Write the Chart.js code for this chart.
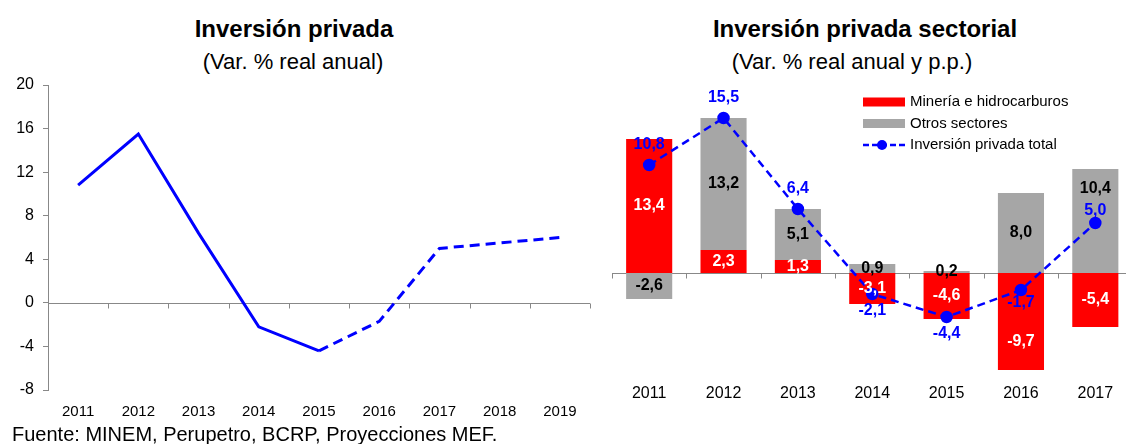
<!DOCTYPE html>
<html>
<head>
<meta charset="utf-8">
<script src="https://cdn.jsdelivr.net/npm/chart.js@4.4.0/dist/chart.umd.min.js"></script>
<style>
  html, body { margin:0; padding:0; background:#fff; width:1126px; height:444px; overflow:hidden; }
  body { position:relative; font-family:"Liberation Sans", Arial, sans-serif; color:#000; }
  .t1, .t2 { position:absolute; white-space:nowrap; transform:translateX(-50%); }
  .t1 { font-size:24px; font-weight:bold; line-height:28px; }
  .t2 { font-size:22px; line-height:24px; }
  #boxL { position:absolute; left:0; top:0; width:600px; height:425px; }
  #boxR { position:absolute; left:600px; top:0; width:540px; height:410px; }
  #src { position:absolute; left:12px; top:422px; font-size:20px; line-height:24px; white-space:nowrap; }
</style>
</head>
<body>
<div class="t1" style="left:294px; top:15px;">Inversión privada</div>
<div class="t2" style="left:293px; top:50px;">(Var. % real anual)</div>
<div class="t1" style="left:865px; top:15px;">Inversión privada sectorial</div>
<div class="t2" style="left:852px; top:50px;">(Var. % real anual y p.p.)</div>
<div id="boxL"><canvas id="leftChart"></canvas></div>
<div id="boxR"><canvas id="rightChart"></canvas></div>
<div id="src">Fuente: MINEM, Perupetro, BCRP, Proyecciones MEF.</div>
<script>
// left chart: inversión privada total (2011-2015 observed, 2016-2019 projected)
var yearsL = ['2011', '2012', '2013', '2014', '2015', '2016', '2017', '2018', '2019'];
var privada = [10.8, 15.5, 6.4, -2.2, -4.4, -1.7, 5.0, 5.5, 6.0];

// right chart: contribution by sector
var yearsR = ['2011', '2012', '2013', '2014', '2015', '2016', '2017'];
var mineria = [13.4, 2.3, 1.3, -3.1, -4.6, -9.7, -5.4];
var otros = [-2.6, 13.2, 5.1, 0.9, 0.2, 8.0, 10.4];
var privadaTotal = [10.8, 15.5, 6.4, -2.1, -4.4, -1.7, 5.0];

var FONT = '"Liberation Sans", Arial, sans-serif';
Chart.defaults.font.family = FONT;
Chart.defaults.color = '#000';

function fmt(v) {
     return v.toFixed(1).replace('.', ',');
}

// zero line with small tick marks at the category boundaries
var zeroAxis = {
     id: 'zeroAxis',
     beforeDatasetsDraw: function(chart) {
          var x = chart.scales.x, y = chart.scales.y, ctx = chart.ctx;
          var y0 = Math.round(y.getPixelForValue(0)) + 0.5;
          ctx.save();
          ctx.strokeStyle = '#888';
          ctx.lineWidth = 1;
          ctx.beginPath();
          ctx.moveTo(x.left, y0);
          ctx.lineTo(x.right, y0);
          for (var i = 0; i <= chart.data.labels.length; i++) {
               var px = Math.round(x.getPixelForValue(i - 0.5)) + 0.5;
               ctx.moveTo(px, y0);
               ctx.lineTo(px, y0 + 5);
          }
          ctx.stroke();
          ctx.restore();
     }
};

/* ---------------- LEFT CHART ---------------- */
new Chart(document.getElementById('leftChart'), {
     type: 'line',
     data: {
          labels: yearsL,
          datasets: [{
               label: 'Inversión privada',
               data: privada,
               borderColor: '#0000FF',
               borderWidth: 3,
               pointRadius: 0,
               tension: 0,
               fill: false,
               segment: {
                    borderDash: function(c) { return c.p0DataIndex >= 4 ? [10, 6] : undefined; }
               }
          }]
     },
     options: {
          responsive: true,
          maintainAspectRatio: false,
          animation: false,
          layout: { padding: { top: 85, right: 10, left: 0, bottom: 0 } },
          plugins: { legend: { display: false }, tooltip: { enabled: false } },
          scales: {
               x: {
                    offset: true,
                    grid: { display: false },
                    border: { display: false },
                    ticks: { font: { size: 15 }, padding: 5, maxRotation: 0 },
                    afterFit: function(s) { s.height = 35; }
               },
               y: {
                    min: -8,
                    max: 20,
                    ticks: { stepSize: 4, font: { size: 16 }, padding: 9 },
                    grid: { drawOnChartArea: false, drawTicks: true, tickLength: 5, tickColor: '#888' },
                    border: { display: true, color: '#888' },
                    afterFit: function(s) { s.width = 48; }
               }
          }
     },
     plugins: [zeroAxis]
});

/* ---------------- RIGHT CHART ---------------- */
// bar labels sit in the middle of the segment; line labels above/below the point.
// when both would overlap, the line label moves closer to its point and the
// bar label moves to the outer end of its segment
var valueLabels = {
     id: 'valueLabels',
     afterDatasetsDraw: function(chart) {
          var ctx = chart.ctx;
          var sets = chart.data.datasets;
          var lineIdx = sets.findIndex(function(d) { return d.type === 'line'; });
          var lineMeta = chart.getDatasetMeta(lineIdx);
          var lineY = [], barPos = [];

          lineMeta.data.forEach(function(pt, i) {
               var v = sets[lineIdx].data[i];
               lineY[i] = v >= 0 ? pt.y - 20 : pt.y + 17;
          });

          sets.forEach(function(ds, di) {
               if (ds.type === 'line') return;
               chart.getDatasetMeta(di).data.forEach(function(el, i) {
                    var mid = (el.y + el.base) / 2;
                    var v = ds.data[i];
                    if (Math.abs(mid - lineY[i]) < 22) {
                         var pv = sets[lineIdx].data[i];
                         lineY[i] = pv >= 0 ? lineMeta.data[i].y - 12 : lineMeta.data[i].y + 13;
                         mid = v >= 0 ? el.y + 20 : el.y - 28;
                    }
                    barPos.push({ x: el.x, y: mid, text: fmt(v), color: ds.labelColor });
               });
          });

          ctx.save();
          ctx.font = 'bold 16px ' + FONT;
          ctx.textAlign = 'center';
          ctx.textBaseline = 'middle';
          barPos.forEach(function(b) {
               ctx.fillStyle = b.color;
               ctx.fillText(b.text, b.x, b.y);
          });
          ctx.fillStyle = sets[lineIdx].borderColor;
          lineMeta.data.forEach(function(pt, i) {
               ctx.fillText(fmt(sets[lineIdx].data[i]), pt.x, lineY[i]);
          });
          ctx.restore();
     }
};

var boxLegend = {
     id: 'boxLegend',
     afterDraw: function(chart) {
          var ctx = chart.ctx;
          var lx = 263, ly = 102, gap = 21.5;
          ctx.save();
          ctx.font = '15px ' + FONT;
          ctx.textBaseline = 'middle';
          chart.data.datasets.forEach(function(ds, i) {
               var yy = ly + i * gap;
               if (ds.type === 'line') {
                    ctx.strokeStyle = ds.borderColor;
                    ctx.lineWidth = 2.5;
                    ctx.setLineDash([6, 3]);
                    ctx.beginPath();
                    ctx.moveTo(lx, yy);
                    ctx.lineTo(lx + 44, yy);
                    ctx.stroke();
                    ctx.setLineDash([]);
                    ctx.fillStyle = ds.borderColor;
                    ctx.beginPath();
                    ctx.arc(lx + 19, yy, 5, 0, Math.PI * 2);
                    ctx.fill();
               } else {
                    ctx.fillStyle = ds.backgroundColor;
                    ctx.fillRect(lx, yy - 4.5, 42, 9);
               }
               ctx.fillStyle = '#000';
               ctx.fillText(ds.label, lx + 47, yy);
          });
          ctx.restore();
     }
};

new Chart(document.getElementById('rightChart'), {
     type: 'bar',
     data: {
          labels: yearsR,
          datasets: [
               {
                    label: 'Minería e hidrocarburos',
                    data: mineria,
                    backgroundColor: '#FF0000',
                    labelColor: '#FFFFFF',
                    borderWidth: 0,
                    categoryPercentage: 1,
                    barPercentage: 0.62,
                    order: 1
               },
               {
                    label: 'Otros sectores',
                    data: otros,
                    backgroundColor: '#A6A6A6',
                    labelColor: '#000000',
                    borderWidth: 0,
                    categoryPercentage: 1,
                    barPercentage: 0.62,
                    order: 1
               },
               {
                    type: 'line',
                    label: 'Inversión privada total',
                    data: privadaTotal,
                    borderColor: '#0000FF',
                    borderWidth: 2.5,
                    borderDash: [8, 5],
                    pointRadius: 5,
                    pointBackgroundColor: '#0000FF',
                    pointBorderColor: '#0000FF',
                    tension: 0,
                    fill: false,
                    order: 0
               }
          ]
     },
     options: {
          responsive: true,
          maintainAspectRatio: false,
          animation: false,
          layout: { padding: { top: 83, left: 12, right: 0, bottom: 0 } },
          plugins: { legend: { display: false }, tooltip: { enabled: false } },
          scales: {
               x: {
                    stacked: true,
                    grid: { display: false },
                    border: { display: false },
                    ticks: { font: { size: 16 }, padding: 3, maxRotation: 0 },
                    afterFit: function(s) { s.height = 37; }
               },
               y: {
                    stacked: true,
                    display: false,
                    min: -10,
                    max: 19
               }
          }
     },
     plugins: [zeroAxis, valueLabels, boxLegend]
});
</script>
</body>
</html>
